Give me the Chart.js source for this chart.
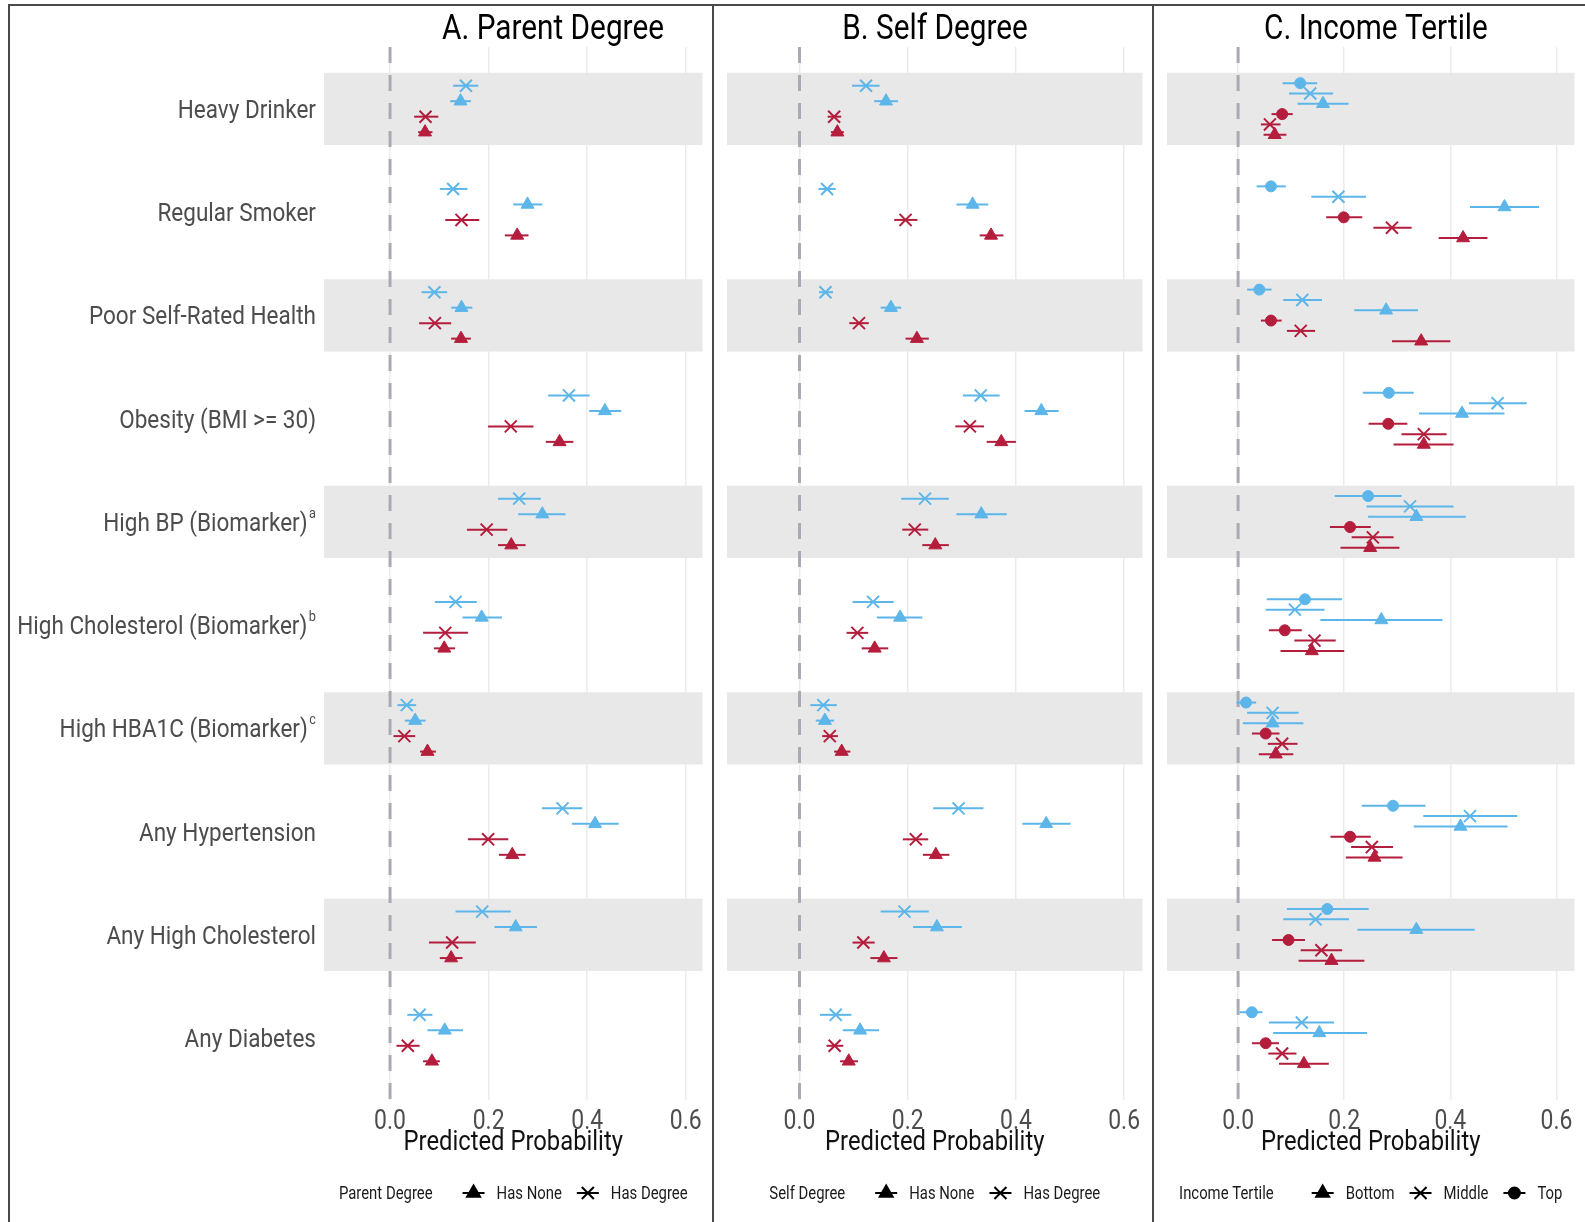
<!DOCTYPE html>
<html>
<head>
<meta charset="utf-8">
<script src="https://cdn.jsdelivr.net/npm/chart.js@4.4.1/dist/chart.umd.min.js"></script>
<style>
  html, body { margin: 0; padding: 0; background: #fff; }
  body { width: 1585px; height: 1222px; position: relative; overflow: hidden; }
  .panel { position: absolute; top: 0; height: 1222px; }
  .panel canvas { display: block; }
  .rule { position: absolute; background: #4a4a4a; z-index: 5; }
</style>
</head>
<body>
<div class="panel" style="left:0;width:713px"><canvas id="panelA" width="713" height="1222"></canvas></div>
<div class="panel" style="left:713px;width:440px"><canvas id="panelB" width="440" height="1222"></canvas></div>
<div class="panel" style="left:1153px;width:432px"><canvas id="panelC" width="432" height="1222"></canvas></div>
<div class="rule" style="left:8px;top:4px;width:1577px;height:2px"></div>
<div class="rule" style="left:8px;top:4px;width:2px;height:1218px"></div>
<div class="rule" style="left:712px;top:4px;width:2px;height:1218px"></div>
<div class="rule" style="left:1152px;top:4px;width:2px;height:1218px"></div>
<script>
// Outcomes, top to bottom
const outcomes = ['Heavy Drinker', 'Regular Smoker', 'Poor Self-Rated Health', 'Obesity (BMI >= 30)',
  'High BP (Biomarker)', 'High Cholesterol (Biomarker)', 'High HBA1C (Biomarker)',
  'Any Hypertension', 'Any High Cholesterol', 'Any Diabetes'];
const outcomeNotes = ['', '', '', '', 'a', 'b', 'c', '', '', ''];
const xTickValues = [0, 0.2, 0.4, 0.6];

// Each entry: [predicted probability, lower bound, upper bound], one per outcome
const parentDegreeBlue = [[0.154,0.128,0.179],[0.128,0.101,0.157],[0.090,0.064,0.116],[0.363,0.321,0.405],[0.262,0.219,0.306],[0.133,0.091,0.176],[0.034,0.015,0.053],[0.350,0.308,0.390],[0.187,0.133,0.245],[0.060,0.035,0.086]];
const parentNoneBlue   = [[0.143,0.122,0.164],[0.279,0.250,0.309],[0.145,0.124,0.167],[0.436,0.404,0.469],[0.309,0.260,0.356],[0.186,0.147,0.227],[0.051,0.030,0.072],[0.416,0.369,0.464],[0.255,0.212,0.298],[0.111,0.076,0.148]];
const parentDegreeRed  = [[0.072,0.049,0.098],[0.145,0.112,0.181],[0.091,0.059,0.124],[0.245,0.199,0.291],[0.196,0.156,0.238],[0.112,0.067,0.158],[0.029,0.007,0.051],[0.199,0.158,0.240],[0.126,0.079,0.174],[0.036,0.013,0.060]];
const parentNoneRed    = [[0.071,0.057,0.086],[0.258,0.233,0.281],[0.144,0.124,0.164],[0.344,0.316,0.372],[0.246,0.219,0.275],[0.110,0.089,0.132],[0.076,0.061,0.093],[0.248,0.221,0.275],[0.124,0.101,0.147],[0.085,0.067,0.101]];

const selfDegreeBlue = [[0.123,0.097,0.148],[0.051,0.035,0.067],[0.048,0.036,0.062],[0.335,0.302,0.370],[0.232,0.188,0.276],[0.136,0.098,0.174],[0.044,0.020,0.069],[0.294,0.247,0.340],[0.194,0.150,0.239],[0.067,0.038,0.096]];
const selfNoneBlue   = [[0.160,0.138,0.182],[0.320,0.290,0.349],[0.169,0.150,0.188],[0.447,0.416,0.479],[0.336,0.290,0.383],[0.186,0.143,0.227],[0.047,0.030,0.064],[0.456,0.412,0.501],[0.254,0.210,0.300],[0.112,0.080,0.147]];
const selfDegreeRed  = [[0.064,0.052,0.077],[0.196,0.175,0.218],[0.110,0.092,0.128],[0.315,0.288,0.341],[0.213,0.190,0.238],[0.107,0.087,0.127],[0.056,0.042,0.071],[0.215,0.191,0.238],[0.118,0.098,0.139],[0.065,0.050,0.081]];
const selfNoneRed    = [[0.070,0.058,0.082],[0.354,0.333,0.377],[0.217,0.196,0.239],[0.373,0.346,0.400],[0.251,0.227,0.276],[0.139,0.115,0.164],[0.078,0.064,0.094],[0.252,0.228,0.277],[0.156,0.131,0.181],[0.091,0.075,0.108]];

const incomeTopBlue    = [[0.117,0.084,0.149],[0.062,0.035,0.090],[0.040,0.017,0.063],[0.284,0.235,0.331],[0.245,0.182,0.308],[0.126,0.054,0.196],[0.015,-0.003,0.034],[0.292,0.233,0.353],[0.168,0.092,0.246],[0.026,0.003,0.046]];
const incomeMiddleBlue = [[0.136,0.096,0.179],[0.189,0.138,0.241],[0.121,0.085,0.158],[0.489,0.435,0.544],[0.324,0.242,0.406],[0.107,0.052,0.163],[0.065,0.017,0.114],[0.437,0.349,0.526],[0.146,0.085,0.209],[0.120,0.058,0.181]];
const incomeBottomBlue = [[0.160,0.112,0.208],[0.502,0.437,0.567],[0.279,0.219,0.339],[0.422,0.341,0.502],[0.336,0.245,0.429],[0.270,0.155,0.385],[0.065,0.009,0.123],[0.419,0.331,0.508],[0.336,0.225,0.446],[0.153,0.066,0.243]];
const incomeTopRed     = [[0.083,0.063,0.103],[0.199,0.166,0.234],[0.062,0.043,0.082],[0.283,0.246,0.319],[0.211,0.173,0.250],[0.088,0.058,0.120],[0.052,0.026,0.078],[0.211,0.174,0.250],[0.095,0.064,0.126],[0.052,0.026,0.077]];
const incomeMiddleRed  = [[0.060,0.043,0.080],[0.290,0.255,0.327],[0.118,0.092,0.145],[0.350,0.308,0.393],[0.254,0.214,0.293],[0.144,0.106,0.184],[0.083,0.056,0.112],[0.252,0.213,0.292],[0.157,0.118,0.196],[0.083,0.057,0.110]];
const incomeBottomRed  = [[0.069,0.048,0.091],[0.424,0.378,0.470],[0.345,0.290,0.400],[0.350,0.293,0.406],[0.249,0.193,0.304],[0.139,0.080,0.200],[0.071,0.039,0.104],[0.257,0.203,0.310],[0.176,0.114,0.238],[0.124,0.077,0.171]];

const FONT = "Roboto, 'Noto Sans', sans-serif";
const SQUEEZE = 0.85;          // horizontal compression for a condensed look
const BLUE = '#5DB6E9';
const RED = '#B51D3C';
const RADIUS = { triangle: 7.5, crossRot: 8.5, circle: 5.5 };

const panels = [
  {
    canvas: 'panelA', title: 'A. Parent Degree', titleCenter: 553, pageLeft: 0,
    padLeft: 324, padRight: 10, showOutcomes: true,
    legendTitle: 'Parent Degree', legendGap: 30,
    legendKeys: [['triangle', 'Has None'], ['crossRot', 'Has Degree']],
    series: [
      { data: parentDegreeBlue, shape: 'crossRot', color: BLUE },
      { data: parentNoneBlue, shape: 'triangle', color: BLUE },
      { data: parentDegreeRed, shape: 'crossRot', color: RED },
      { data: parentNoneRed, shape: 'triangle', color: RED }
    ]
  },
  {
    canvas: 'panelB', title: 'B. Self Degree', titleCenter: 935, pageLeft: 713,
    padLeft: 14, padRight: 9, showOutcomes: false,
    legendTitle: 'Self Degree', legendGap: 30,
    legendKeys: [['triangle', 'Has None'], ['crossRot', 'Has Degree']],
    series: [
      { data: selfDegreeBlue, shape: 'crossRot', color: BLUE },
      { data: selfNoneBlue, shape: 'triangle', color: BLUE },
      { data: selfDegreeRed, shape: 'crossRot', color: RED },
      { data: selfNoneRed, shape: 'triangle', color: RED }
    ]
  },
  {
    canvas: 'panelC', title: 'C. Income Tertile', titleCenter: 1376, pageLeft: 1153,
    padLeft: 14, padRight: 0, showOutcomes: false,
    legendTitle: 'Income Tertile', legendGap: 38,
    legendKeys: [['triangle', 'Bottom'], ['crossRot', 'Middle'], ['circle', 'Top']],
    series: [
      { data: incomeTopBlue, shape: 'circle', color: BLUE },
      { data: incomeMiddleBlue, shape: 'crossRot', color: BLUE },
      { data: incomeBottomBlue, shape: 'triangle', color: BLUE },
      { data: incomeTopRed, shape: 'circle', color: RED },
      { data: incomeMiddleRed, shape: 'crossRot', color: RED },
      { data: incomeBottomRed, shape: 'triangle', color: RED }
    ]
  }
];

const DODGE_WIDTH = 0.6;   // share of a row taken by the dodged groups
const BAND_HALF = 0.35;    // half height of the shaded row bands

function textWidth(ctx, text, size) {
  ctx.font = `${size}px ${FONT}`;
  return ctx.measureText(text).width * SQUEEZE;
}

function drawText(ctx, text, x, y, size, align, color) {
  ctx.save();
  ctx.font = `${size}px ${FONT}`;
  ctx.fillStyle = color;
  ctx.textAlign = align;
  ctx.textBaseline = 'alphabetic';
  ctx.translate(x, y);
  ctx.scale(SQUEEZE, 1);
  ctx.fillText(text, 0, 0);
  ctx.restore();
}

// Shaded bands, zero reference and interval lines, drawn under the markers
const intervalLayer = {
  id: 'intervalLayer',
  beforeDatasetsDraw(chart) {
    const { ctx, chartArea: a } = chart;
    const x = chart.scales.x, y = chart.scales.y;
    ctx.save();
    ctx.fillStyle = '#E8E8E8';
    outcomes.forEach((_, i) => {
      if (i % 2 !== 0) return;
      const t = y.getPixelForValue(i - BAND_HALF), b = y.getPixelForValue(i + BAND_HALF);
      ctx.fillRect(a.left, Math.min(t, b), a.right - a.left, Math.abs(b - t));
    });
    const x0 = x.getPixelForValue(0);
    ctx.strokeStyle = '#A7ACB4';
    ctx.lineWidth = 3;
    ctx.setLineDash([16, 12]);
    ctx.beginPath();
    ctx.moveTo(x0, a.top);
    ctx.lineTo(x0, a.bottom);
    ctx.stroke();
    ctx.setLineDash([]);
    ctx.lineWidth = 2;
    chart.data.datasets.forEach(ds => {
      ctx.strokeStyle = ds.borderColor;
      ds.data.forEach(p => {
        const yy = y.getPixelForValue(p.y);
        ctx.beginPath();
        ctx.moveTo(x.getPixelForValue(p.lo), yy);
        ctx.lineTo(x.getPixelForValue(p.hi), yy);
        ctx.stroke();
      });
    });
    ctx.restore();
  }
};

// Panel title, tick labels, axis title, outcome labels and the shape key
const annotations = {
  id: 'annotations',
  afterDraw(chart, args, opts) {
    const { ctx, chartArea: a } = chart;
    const x = chart.scales.x, y = chart.scales.y;
    const panel = opts.panel;

    drawText(ctx, panel.title, panel.titleCenter - panel.pageLeft, 39, 35, 'center', '#000');

    // x tick labels placed by the x scale
    x.ticks.forEach(t => {
      drawText(ctx, t.value.toFixed(1), x.getPixelForValue(t.value), a.bottom + 29, 27, 'center', '#4D4D4D');
    });
    drawText(ctx, 'Predicted Probability', (a.left + a.right) / 2, a.bottom + 50, 28, 'center', '#111');

    if (panel.showOutcomes) {
      outcomes.forEach((label, i) => {
        const yy = y.getPixelForValue(i);
        let right = a.left - 8;
        const note = outcomeNotes[i];
        if (note) {
          drawText(ctx, note, right, yy - 4, 15, 'right', '#4D4D4D');
          right -= textWidth(ctx, note, 15) + 1.5;
        }
        drawText(ctx, label, right, yy + 9, 26.5, 'right', '#4D4D4D');
      });
    }

    // shape key
    const keyY = 1193;
    const keyW = 22;
    const size = 17.5;
    const titleW = textWidth(ctx, panel.legendTitle, size);
    const parts = panel.legendKeys.map(([shape, text]) => ({ shape, text, w: textWidth(ctx, text, size) }));
    const gapAfterTitle = panel.legendGap, gapKeyText = 12, gapBetween = 15;
    let total = titleW + gapAfterTitle;
    parts.forEach((p, i) => { total += keyW + gapKeyText + p.w + (i < parts.length - 1 ? gapBetween : 0); });
    let cx = (a.left + a.right) / 2 - total / 2;
    drawText(ctx, panel.legendTitle, cx, keyY + 6, size, 'left', '#1a1a1a');
    cx += titleW + gapAfterTitle;
    parts.forEach(p => {
      ctx.save();
      ctx.strokeStyle = '#000';
      ctx.fillStyle = '#000';
      ctx.lineWidth = 2;
      ctx.beginPath();
      ctx.moveTo(cx, keyY);
      ctx.lineTo(cx + keyW, keyY);
      ctx.stroke();
      Chart.helpers.drawPoint(ctx, { pointStyle: p.shape, radius: RADIUS[p.shape], rotation: 0, borderWidth: p.shape === 'crossRot' ? 2 : 1 }, cx + keyW / 2, keyY);
      ctx.restore();
      cx += keyW + gapKeyText;
      drawText(ctx, p.text, cx, keyY + 6, size, 'left', '#1a1a1a');
      cx += p.w + gapBetween;
    });
  }
};

panels.forEach(panel => {
  const n = panel.series.length;
  const datasets = panel.series.map((s, k) => {
    const offset = (k - (n - 1) / 2) * DODGE_WIDTH / n;
    return {
      data: s.data.map((v, i) => ({ x: v[0], y: i + offset, lo: v[1], hi: v[2] })),
      pointStyle: s.shape,
      pointRadius: RADIUS[s.shape],
      backgroundColor: s.color,
      borderColor: s.color,
      borderWidth: s.shape === 'crossRot' ? 2 : 1,
      showLine: false
    };
  });

  new Chart(document.getElementById(panel.canvas), {
    type: 'scatter',
    data: { datasets },
    plugins: [intervalLayer, annotations],
    options: {
      responsive: false,
      animation: false,
      events: [],
      layout: { padding: { top: 47, bottom: 60, left: panel.padLeft, right: panel.padRight } },
      plugins: {
        legend: { display: false },
        tooltip: { enabled: false },
        annotations: { panel }
      },
      scales: {
        x: {
          type: 'linear',
          min: -0.134,
          max: 0.634,
          afterBuildTicks: scale => { scale.ticks = xTickValues.map(v => ({ value: v })); },
          afterFit: scale => { scale.height = 62; },
          ticks: { display: false },
          grid: { color: '#EBEBEB', lineWidth: 1.5, drawTicks: false },
          border: { display: false }
        },
        y: {
          type: 'linear',
          min: -0.6,
          max: 9.6,
          reverse: true,
          display: false
        }
      }
    }
  });
});
</script>
</body>
</html>
